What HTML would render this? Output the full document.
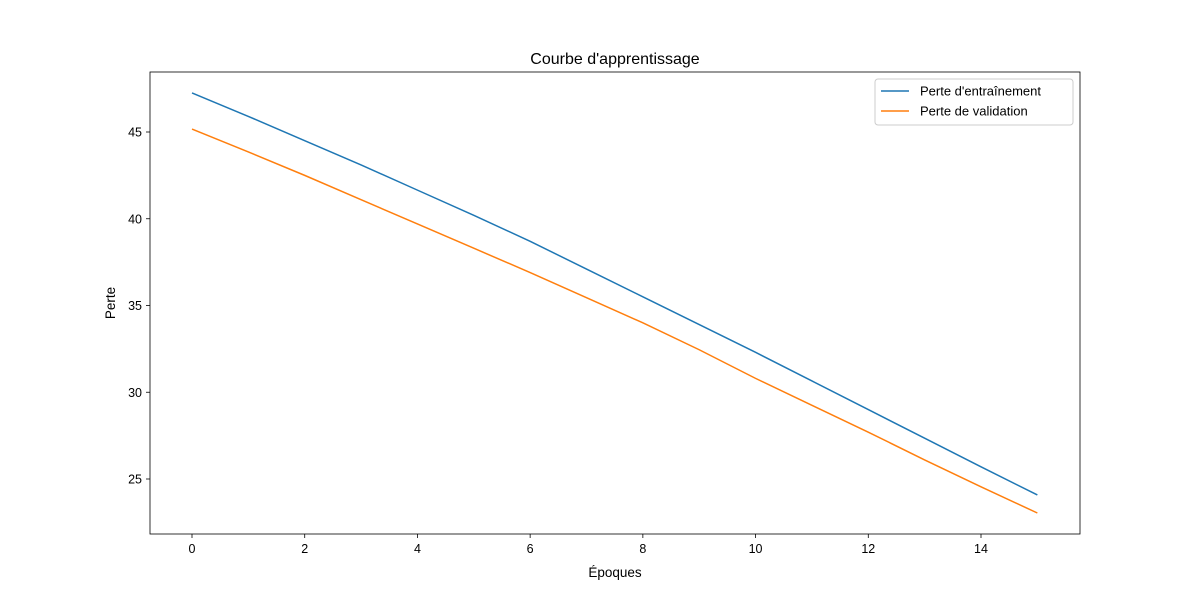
<!DOCTYPE html>
<html><head><meta charset="utf-8"><style>
body{margin:0;background:#fff;}
svg{font-family:"Liberation Sans","DejaVu Sans",sans-serif;}
</style></head><body>
<svg id="c" width="1200" height="600"></svg>
<script>
const epochs=[0,1,2,3,4,5,6,7,8,9,10,11,12,13,14,15];
const trainLoss=[47.25,45.9,44.5,43.1,41.65,40.2,38.7,37.1,35.5,33.9,32.3,30.65,29.0,27.35,25.7,24.08];
const valLoss=[45.17,43.85,42.5,41.1,39.7,38.3,36.9,35.45,34.0,32.45,30.8,29.25,27.7,26.1,24.55,23.04];
const xTicks=[0,2,4,6,8,10,12,14];
const yTicks=[25,30,35,40,45];
const NS='http://www.w3.org/2000/svg';
const svg=document.getElementById('c');
const L=150,R=1080,T=72,B=534;
const xs=v=>192+(v-0)*(981-192)/14;
const ys=v=>132+(45-v)*(479-132)/20;
function el(t,a,p){const e=document.createElementNS(NS,t);for(const k in a)e.setAttribute(k,a[k]);(p||svg).appendChild(e);return e;}
let t=el('text',{x:615,y:64,'text-anchor':'middle','font-size':16,fill:'#000'});t.textContent="Courbe d'apprentissage";


xTicks.forEach(v=>{const x=xs(v);
 const l=el('line',{x1:x,x2:x,y1:B,y2:B+4,stroke:'#000','stroke-width':0.8});
 
 
 const tx=el('text',{x:x,y:B+19,'text-anchor':'middle','font-size':12.5});tx.textContent=v;
 
 });
yTicks.forEach(v=>{const y=ys(v);
 const l=el('line',{x1:L-4,x2:L,y1:y,y2:y,stroke:'#000','stroke-width':0.8});
 
 
 const tx=el('text',{x:L-8,y:y+4.5,'text-anchor':'end','font-size':12.5});tx.textContent=v;
 
 });
function line(data,color,name){const p=el('polyline',{points:data.map((v,i)=>xs(epochs[i])+','+ys(v)).join(' '),fill:'none',stroke:color,'stroke-width':1.5});
 
 }
line(trainLoss,'#1f77b4','train-loss-line');
line(valLoss,'#ff7f0e','validation-loss-line');
const fr=el('rect',{x:L,y:T,width:R-L,height:B-T,fill:'none',stroke:'#000','stroke-width':0.8});


let xl=el('text',{x:615,y:577,'text-anchor':'middle','font-size':13.5});xl.textContent='Époques';


let yl=el('text',{x:115,y:303,'text-anchor':'middle','font-size':13.5,transform:'rotate(-90 115 303)'});yl.textContent='Perte';


const lg=el('g',{});


el('rect',{x:875,y:79,width:198,height:46,rx:3,fill:'#fff',stroke:'#ccc','stroke-width':1},lg);
[['Perte d\'entraînement','#1f77b4',91],['Perte de validation','#ff7f0e',111]].forEach(([s,c,y],i)=>{
 const g=el('g',{},lg);
 
 
 el('line',{x1:881,x2:909,y1:y,y2:y,stroke:c,'stroke-width':1.5},g);
 const tx=el('text',{x:920,y:y+4.5,'font-size':13},g);tx.textContent=s;});
</script>
</body></html>
